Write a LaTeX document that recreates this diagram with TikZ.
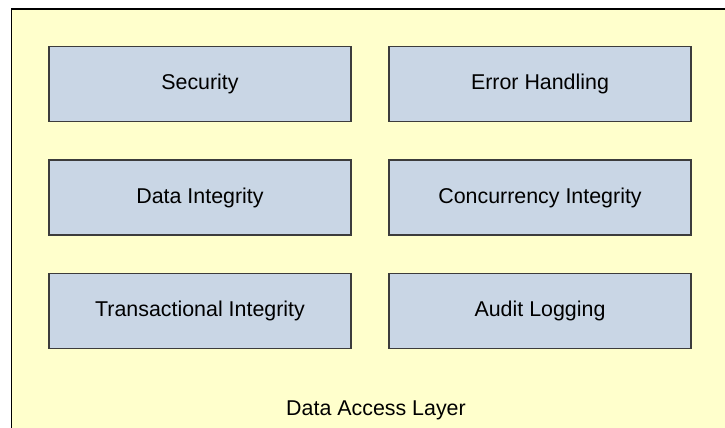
\documentclass[tikz,border=0pt]{standalone}
\usepackage{fontspec}
\setmainfont{Liberation Sans}
\definecolor{layerfill}{HTML}{FFFFCC}
\definecolor{modfill}{HTML}{C9D6E5}
\definecolor{modline}{HTML}{3C3C3C}
\begin{document}
\begin{tikzpicture}[x=1pt,y=-1pt,
  module/.style={draw=modline, line width=1.4pt, fill=modfill,
    minimum width=302pt, minimum height=75pt, inner sep=0pt,
    font=\fontsize{21.4}{24}\selectfont},
  layerlabel/.style={font=\fontsize{21.4}{24}\selectfont, inner sep=0pt}]
  \useasboundingbox (0,0) rectangle (725,428);
  \clip (0,0) rectangle (725,428);
  % the enclosing layer, running past the right and bottom edges
  \draw[line width=1.5pt, fill=layerfill] (11.5,9) rectangle (760,460);
  % the six services of the layer
  \node[module] (security)    at (200,84)    {Security};
  \node[module] (errors)      at (540,84)    {Error Handling};
  \node[module] (dataint)     at (200,197.5) {Data Integrity};
  \node[module] (concurrency) at (540,197.5) {Concurrency Integrity};
  \node[module] (transact)    at (200,311)   {Transactional Integrity};
  \node[module] (audit)       at (540,311)   {Audit Logging};
  \node[layerlabel, anchor=base west] (layer) at (286,415) {Data Access Layer};
\end{tikzpicture}
\end{document}
